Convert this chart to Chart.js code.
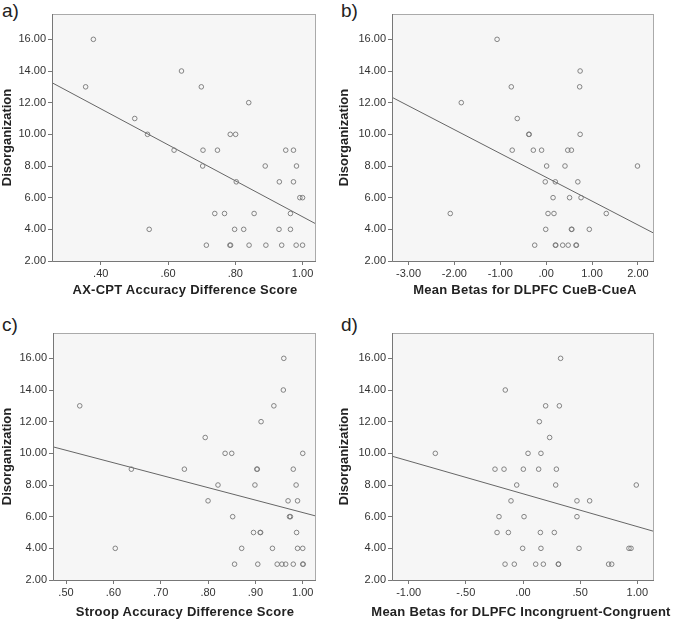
<!DOCTYPE html>
<html>
<head>
<meta charset="utf-8">
<script src="https://cdn.jsdelivr.net/npm/chart.js@4/dist/chart.umd.min.js"></script>
<style>
  body { margin: 0; background: #fff; }
  #wrap { position: relative; width: 674px; height: 621px; font-family: "Liberation Sans", Arial, sans-serif; }
  .panel { position: absolute; width: 337px; height: 302px; }
  .tag { position: absolute; font-size: 19px; color: #222; }
  .xtitle { position: absolute; width: 400px; text-align: center; font-size: 13px; font-weight: bold;
            letter-spacing: 0.25px; line-height: 16px; color: #222; white-space: nowrap; }
</style>
</head>
<body>
<div id="wrap">
  <div class="tag" style="left:2px;top:0px">a)</div>
  <div class="tag" style="left:341px;top:0px">b)</div>
  <div class="tag" style="left:2px;top:314px">c)</div>
  <div class="tag" style="left:341px;top:314px">d)</div>
  <div class="panel" style="left:0;top:0"><canvas id="chartA"></canvas></div>
  <div class="panel" style="left:337px;top:0"><canvas id="chartB"></canvas></div>
  <div class="panel" style="left:0;top:319px"><canvas id="chartC"></canvas></div>
  <div class="panel" style="left:337px;top:319px"><canvas id="chartD"></canvas></div>
  <div class="xtitle" style="left:-15px;top:282px">AX-CPT Accuracy Difference Score</div>
  <div class="xtitle" style="left:325px;top:282px">Mean Betas for DLPFC CueB-CueA</div>
  <div class="xtitle" style="left:-15px;top:604px">Stroop Accuracy Difference Score</div>
  <div class="xtitle" style="left:321px;top:604px">Mean Betas for DLPFC Incongruent-Congruent</div>
</div>
<script>
// shared y axis
const yTicks = [2, 4, 6, 8, 10, 12, 14, 16];
const yRange = [2, 17.6];

// a) AX-CPT
const axcptX = [0.378, 0.355, 0.501, 0.539, 0.544, 0.618, 0.640, 0.699, 0.704, 0.703, 0.739, 0.747, 0.768, 0.714,
  0.785, 0.801, 0.803, 0.798, 0.784, 0.786, 0.825, 0.840, 0.841, 0.856, 0.889, 0.891, 0.931, 0.930, 0.938, 0.950,
  0.964, 0.964, 0.973, 0.973, 0.982, 0.981, 0.992, 1.000, 1.000];
const axcptY = [16, 13, 11, 10, 4, 9, 14, 13, 9, 8, 5, 9, 5, 3,
  10, 10, 7, 4, 3, 3, 4, 12, 3, 5, 8, 3, 7, 4, 3, 9,
  5, 4, 9, 7, 8, 3, 6, 6, 3];
const axcptTicks = [0.4, 0.6, 0.8, 1.0];
const axcptRange = [0.255, 1.04];
const axcptFit = [13.26, 4.34];

// b) DLPFC CueB-CueA
const cueX = [-1.07, -0.76, -1.85, -0.63, -0.38, -0.37, -0.74, -0.28, -0.10, 0.01, -0.02, 0.20, 0.15, 0.04, 0.17,
  -0.01, -2.09, -0.25, 0.20, 0.21, 0.36, 0.48, 0.65, 0.66, 0.47, 0.55, 0.41, 0.69, 0.51, 0.76,
  0.74, 0.73, 0.74, 0.55, 0.56, 0.94, 1.31, 1.99];
const cueY = [16, 13, 12, 11, 10, 10, 9, 9, 9, 8, 7, 7, 6, 5, 5,
  4, 5, 3, 3, 3, 3, 3, 3, 3, 9, 9, 8, 7, 6, 6,
  14, 13, 10, 4, 4, 4, 5, 8];
const cueTicks = [-3, -2, -1, 0, 1, 2];
const cueRange = [-3.36, 2.35];
const cueFit = [12.34, 3.75];

// c) Stroop
const stroopX = [0.529, 0.604, 0.638, 0.750, 0.794, 0.800, 0.821, 0.836, 0.850, 0.852, 0.856, 0.871, 0.896, 0.899,
  0.903, 0.904, 0.905, 0.910, 0.911, 0.912, 0.936, 0.939, 0.946, 0.956, 0.959, 0.960, 0.964, 0.969, 0.972, 0.974,
  0.980, 0.980, 0.986, 0.987, 0.989, 0.989, 1.000, 1.000, 1.000, 1.001];
const stroopY = [13, 4, 9, 9, 11, 7, 8, 10, 10, 6, 3, 4, 5, 8,
  9, 9, 3, 5, 5, 12, 4, 13, 3, 3, 14, 16, 3, 7, 6, 6,
  9, 3, 8, 5, 7, 4, 10, 4, 3, 3];
const stroopTicks = [0.5, 0.6, 0.7, 0.8, 0.9, 1.0];
const stroopRange = [0.4725, 1.028];
const stroopFit = [10.41, 6.04];

// d) DLPFC Incongruent-Congruent
const incongX = [-0.767, -0.245, -0.166, -0.155, -0.055, -0.105, -0.210, -0.227, -0.128, -0.157, -0.076, -0.003,
  0.003, 0.009, 0.044, 0.111, 0.137, 0.143, 0.152, 0.157, 0.157, 0.178, 0.198, 0.233, 0.274, 0.286, 0.292,
  0.309, 0.311, 0.318, 0.329, 0.472, 0.472, 0.490, 0.583, 0.749, 0.776, 0.927, 0.945, 0.991];
const incongY = [10, 9, 9, 14, 8, 7, 6, 5, 5, 3, 3, 4,
  9, 6, 10, 3, 9, 12, 5, 10, 4, 3, 13, 11, 5, 8, 9,
  3, 3, 13, 16, 7, 6, 4, 7, 3, 3, 4, 4, 8];
const incongTicks = [-1, -0.5, 0, 0.5, 1];
const incongRange = [-1.146, 1.146];
const incongFit = [9.82, 5.07];

const tickFont = { family: "Liberation Sans, Arial, sans-serif", size: 11 };
const titleFont = { family: "Liberation Sans, Arial, sans-serif", size: 13, weight: "bold" };

function spss(v) {
  return v.toFixed(2).replace(/^(-?)0\./, "$1.");
}

const plotFrame = {
  id: "plotFrame",
  beforeDraw(chart) {
    const a = chart.chartArea, ctx = chart.ctx;
    ctx.save();
    ctx.fillStyle = "#f6f6f6";
    ctx.fillRect(a.left, a.top, a.right - a.left, a.bottom - a.top);
    ctx.restore();
  },
  afterDraw(chart) {
    const a = chart.chartArea, ctx = chart.ctx;
    ctx.save();
    ctx.strokeStyle = "#aaaaaa";
    ctx.lineWidth = 1;
    ctx.strokeRect(a.left + 0.5, a.top + 0.5, a.right - a.left - 1, a.bottom - a.top);
    ctx.strokeStyle = "#777";
    ctx.beginPath();
    ctx.moveTo(a.left + 0.5, a.top);
    ctx.lineTo(a.left + 0.5, a.bottom + 0.5);
    ctx.lineTo(a.right, a.bottom + 0.5);
    ctx.stroke();
    ctx.restore();
  }
};

function makePanel(id, xs, ys, xTicks, xRange, fit, leftW, padRight) {
  const pts = xs.map((x, i) => ({ x, y: ys[i] }));
  return new Chart(document.getElementById(id), {
    type: "scatter",
    data: {
      datasets: [
        {
          data: pts,
          pointStyle: "circle",
          pointRadius: 2.3,
          pointBorderWidth: 0.9,
          pointBorderColor: "#777",
          pointBackgroundColor: "rgba(0,0,0,0)",
          showLine: false
        },
        {
          type: "line",
          data: [{ x: xRange[0], y: fit[0] }, { x: xRange[1], y: fit[1] }],
          borderColor: "#666",
          borderWidth: 1,
          pointRadius: 0,
          fill: false
        }
      ]
    },
    options: {
      responsive: true,
      maintainAspectRatio: false,
      animation: false,
      layout: { padding: { top: 14, right: padRight, bottom: 0, left: 0 } },
      plugins: { legend: { display: false }, tooltip: { enabled: false } },
      scales: {
        x: {
          type: "linear",
          min: xRange[0],
          max: xRange[1],
          afterBuildTicks: s => { s.ticks = xTicks.map(v => ({ value: v })); },
          afterFit: s => { s.height = 41; },
          border: { display: false },
          grid: { drawOnChartArea: false, tickLength: 4, color: "#777" },
          ticks: { font: tickFont, color: "#333", padding: 2, maxRotation: 0, callback: v => spss(v) }
        },
        y: {
          type: "linear",
          min: yRange[0],
          max: yRange[1],
          afterBuildTicks: s => { s.ticks = yTicks.map(v => ({ value: v })); },
          afterFit: s => { s.width = leftW; },
          border: { display: false },
          grid: { drawOnChartArea: false, tickLength: 4, color: "#777" },
          ticks: { font: tickFont, color: "#333", padding: 2, callback: v => spss(v) },
          title: { display: true, text: "Disorganization", font: titleFont, color: "#222", padding: 0 }
        }
      }
    },
    plugins: [plotFrame]
  });
}

makePanel("chartA", axcptX, axcptY, axcptTicks, axcptRange, axcptFit, 52, 21);
makePanel("chartB", cueX, cueY, cueTicks, cueRange, cueFit, 55, 20);
makePanel("chartC", stroopX, stroopY, stroopTicks, stroopRange, stroopFit, 53, 21);
makePanel("chartD", incongX, incongY, incongTicks, incongRange, incongFit, 55, 20);
</script>
</body>
</html>
